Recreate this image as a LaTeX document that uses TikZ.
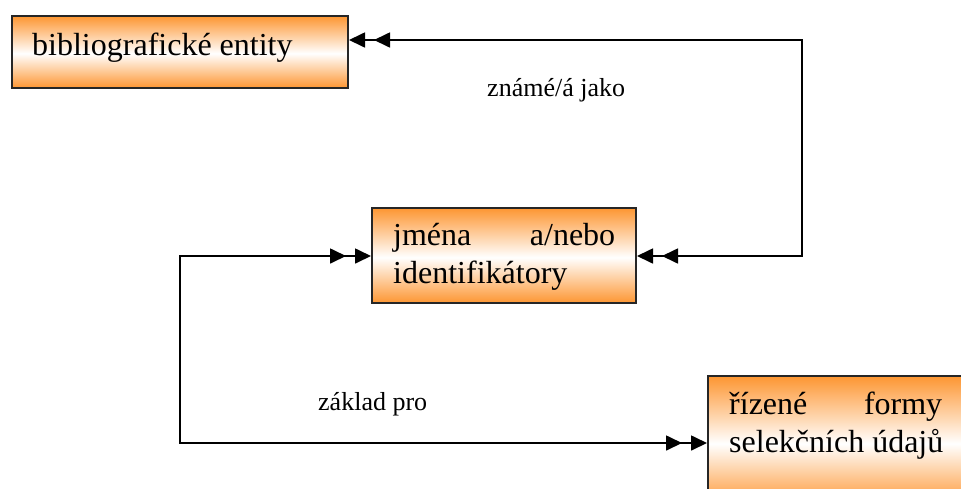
\documentclass[tikz,border=0pt]{standalone}
\usepackage{fontspec}
\setmainfont{Liberation Serif}
\usetikzlibrary{arrows.meta}
\definecolor{boxorange}{RGB}{253,150,50}
\pgfdeclareverticalshading{orangewhite}{100bp}{color(0bp)=(boxorange); color(25bp)=(boxorange); color(49bp)=(white); color(75bp)=(boxorange); color(100bp)=(boxorange)}
\begin{document}
\begin{tikzpicture}[x=1pt,y=-1pt,
  entbox/.style={draw=black!85, line width=2pt, shading=orangewhite, anchor=north west, inner sep=0pt},
  boxtext/.style={font=\fontsize{32}{37.5}\selectfont, anchor=base west, inner sep=0pt, align=left},
  lbl/.style={font=\fontsize{26}{30}\selectfont, anchor=base west, inner sep=0pt},
  conn/.style={line width=1.7pt, {Triangle[length=16pt,width=15pt]}-{Triangle[length=16pt,width=15pt]}},
  conn2/.style={conn, shorten <=25pt, shorten >=25pt}]
\useasboundingbox (0,0) rectangle (961,488);
\clip (0,0) rectangle (961,488);
\fill[white] (0,0) rectangle (961,488);
% boxes
\node[entbox, minimum width=336pt, minimum height=72pt] (bib) at (11,15) {};
\node[entbox, minimum width=264pt, minimum height=95pt] (ids) at (371,207) {};
\node[entbox, minimum width=280pt, minimum height=130pt] (rf) at (707,375) {};
% texts
\node[boxtext] (bibt) at (32,55) {bibliografické entity};
\node[boxtext] (idst) at (393,283) {\makebox[222pt][s]{jména a/nebo}\\identifikátory};
\node[boxtext] (rft) at (729,452) {\makebox[213pt][s]{řízené formy}\\selekčních údajů};
% connectors
\coordinate (r2) at (802,256);
\coordinate (r1) at (802,40);
\coordinate (l1) at (180,256);
\coordinate (l2) at (180,443);
\draw[conn] (ids.east |- r2) -- (r2) -- (r1) -- (bib.east |- r1);
\draw[conn2] (ids.east |- r2) -- (r2) -- (r1) -- (bib.east |- r1);
\draw[conn] (ids.west |- l1) -- (l1) -- (l2) -- (rf.west |- l2);
\draw[conn2] (ids.west |- l1) -- (l1) -- (l2) -- (rf.west |- l2);
% labels
\node[lbl] (t1) at (487,96) {známé/á jako};
\node[lbl] (t2) at (318,410) {základ pro};
\end{tikzpicture}
\end{document}
